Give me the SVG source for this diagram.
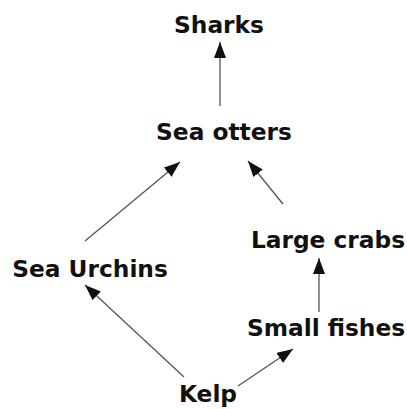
<svg xmlns="http://www.w3.org/2000/svg" width="407" height="409" viewBox="0 0 407 409">
<defs>
<marker id="ah" viewBox="0 0 16 12" markerWidth="16" markerHeight="12" refX="16" refY="6" orient="auto" markerUnits="userSpaceOnUse">
<path d="M0,0 L16,6 L0,12 z" fill="#111"/>
</marker>
<style>
.lbl{font-family:"DejaVu Sans","Liberation Sans",sans-serif;font-weight:bold;font-size:23.3px;fill:#111;text-anchor:middle}
.edge{stroke:#555;stroke-width:1.3;fill:none;marker-end:url(#ah)}
</style>
</defs>
<rect width="407" height="409" fill="#fff"/>
<g id="connectors">
<line class="edge" x1="220" y1="106" x2="220" y2="42"/>
<line class="edge" x1="85" y1="241" x2="180" y2="162"/>
<line class="edge" x1="283" y1="204" x2="248" y2="161"/>
<line class="edge" x1="319" y1="312" x2="319" y2="258"/>
<line class="edge" x1="184" y1="377" x2="85" y2="285"/>
<line class="edge" x1="238" y1="386" x2="293" y2="349"/>
</g>
<g id="sharks"><text class="lbl" x="219" y="33">Sharks</text></g>
<g id="sea-otters"><text class="lbl" x="224" y="140">Sea otters</text></g>
<g id="sea-urchins"><text class="lbl" x="90" y="277">Sea Urchins</text></g>
<g id="large-crabs"><text class="lbl" x="328" y="248">Large crabs</text></g>
<g id="small-fishes"><text class="lbl" x="326" y="336">Small fishes</text></g>
<g id="kelp"><text class="lbl" x="208" y="402">Kelp</text></g>
</svg>
